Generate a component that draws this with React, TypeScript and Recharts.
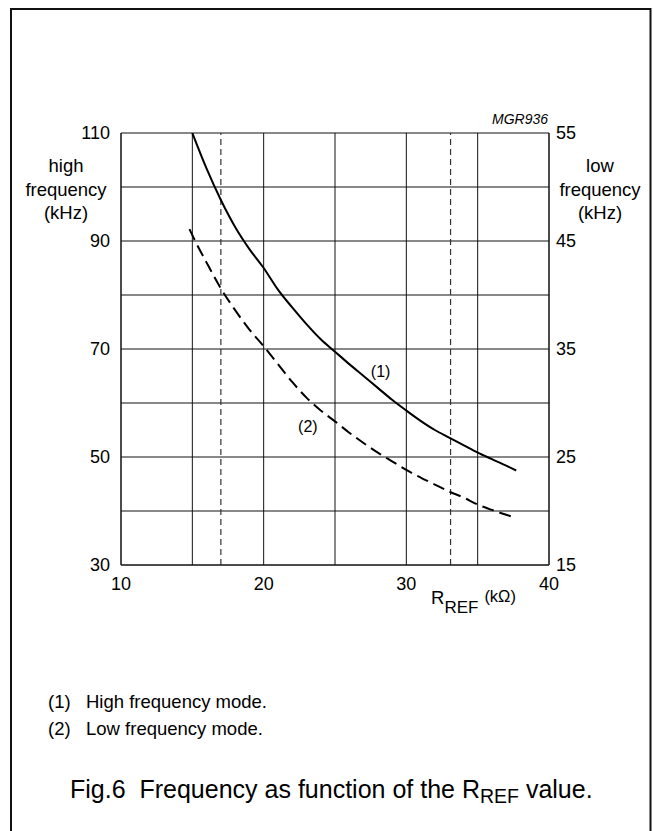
import React from "react";
import {
  LineChart,
  Line,
  XAxis,
  YAxis,
  CartesianGrid,
  ReferenceLine,
  ReferenceDot,
} from "recharts";

// R_REF (kOhm) vs frequency (kHz)
const highFreqR = [15, 16, 17, 18, 19, 20, 21, 22, 23, 24, 25, 26, 27, 28, 29, 30, 31, 32, 33, 34, 35, 36, 37, 37.7];
const highFreqF = [110, 103.4, 97.6, 92.6, 88.5, 85, 81, 77.7, 74.6, 71.8, 69.5, 67.2, 65, 62.8, 60.6, 58.6, 56.7, 55, 53.6, 52.2, 50.8, 49.6, 48.4, 47.5];

const lowFreqR = [14.8, 15.2, 16, 17, 18, 19, 20, 21, 22, 23, 24, 25, 26, 27, 28, 29, 30, 31, 32, 33, 34, 35, 36, 37, 37.5];
const lowFreqF = [92.2, 90, 86, 81.2, 77.2, 73.6, 70.5, 67.2, 63.9, 61, 58.6, 56.6, 54.5, 52.6, 50.8, 49.2, 47.6, 46.2, 44.9, 43.6, 42.5, 41.2, 40.2, 39.3, 38.9];

const xTicks = [10, 15, 20, 25, 30, 35, 40];
const xLabelled = [10, 20, 30, 40];
const leftTicks = [30, 40, 50, 60, 70, 80, 90, 100, 110];
const leftLabelled = [30, 50, 70, 90, 110];
const rightTicks = [15, 25, 35, 45, 55];
const limitLines = [17, 33.1];

const highData = highFreqR.map((r, i) => ({ r, f: highFreqF[i] }));
const lowData = lowFreqR.map((r, i) => ({ r, f: lowFreqF[i] }));

const FONT = '"Liberation Sans", Arial, Helvetica, sans-serif';

const TickText = ({ x, y, payload, show, anchor, dy }: any) => {
  if (show && !show.includes(payload.value)) return null;
  return (
    <text x={x} y={y} dy={dy} textAnchor={anchor} fontSize={18} fill="#000" fontFamily={FONT}>
      {payload.value}
    </text>
  );
};

export default function App() {
  return (
    <div
      style={{
        position: "absolute",
        left: 0,
        top: 0,
        width: 653,
        height: 831,
        background: "#fff",
        fontFamily: FONT,
      }}
    >
      <div style={{ position: "absolute", left: 0, top: 0 }}>
        <LineChart
          width={653}
          height={620}
          margin={{ top: 133, left: 61, right: 44, bottom: 25 }}
        >
          <CartesianGrid yAxisId="left" stroke="#111" strokeWidth={1} />
          <XAxis
            dataKey="r"
            type="number"
            domain={[10, 40]}
            ticks={xTicks}
            interval={0}
            allowDataOverflow
            tickLine={false}
            tickSize={0}
            tickMargin={12}
            axisLine={{ stroke: "#111" }}
            height={30}
            tick={<TickText show={xLabelled} anchor="middle" dy="0.71em" />}
          />
          <YAxis
            yAxisId="left"
            type="number"
            domain={[30, 110]}
            ticks={leftTicks}
            interval={0}
            allowDataOverflow
            tickLine={false}
            tickSize={0}
            tickMargin={11}
            width={60}
            axisLine={{ stroke: "#111" }}
            tick={<TickText show={leftLabelled} anchor="end" dy="0.35em" />}
          />
          <YAxis
            yAxisId="right"
            orientation="right"
            type="number"
            domain={[15, 55]}
            ticks={rightTicks}
            interval={0}
            allowDataOverflow
            tickLine={false}
            tickSize={0}
            tickMargin={7}
            width={60}
            axisLine={{ stroke: "#111" }}
            tick={<TickText anchor="start" dy="0.35em" />}
          />
          {limitLines.map((v) => (
            <ReferenceLine
              key={v}
              x={v}
              yAxisId="left"
              stroke="#333"
              strokeWidth={1.2}
              strokeDasharray="6 4"
            />
          ))}
          <Line
            yAxisId="left"
            data={highData}
            dataKey="f"
            type="monotone"
            stroke="#000"
            strokeWidth={2}
            dot={false}
            isAnimationActive={false}
          />
          <Line
            yAxisId="left"
            data={lowData}
            dataKey="f"
            type="monotone"
            stroke="#000"
            strokeWidth={2}
            strokeDasharray="12 6"
            dot={false}
            isAnimationActive={false}
          />
          <ReferenceDot
            yAxisId="left"
            x={28.2}
            y={65.8}
            r={0}
            fill="none"
            stroke="none"
            label={{ value: "(1)", position: "center", fontSize: 16, fill: "#000", fontFamily: FONT }}
          />
          <ReferenceDot
            yAxisId="left"
            x={23.1}
            y={55.6}
            r={0}
            fill="none"
            stroke="none"
            label={{ value: "(2)", position: "center", fontSize: 16, fill: "#000", fontFamily: FONT }}
          />
        </LineChart>
      </div>
      <svg
        width={653}
        height={831}
        style={{ position: "absolute", left: 0, top: 0, pointerEvents: "none" }}
        fontFamily={FONT}
      >
        <path d="M11 831 V9 H650.5 V831" fill="none" stroke="#111" strokeWidth={2} />
        <text x={548} y={124} textAnchor="end" fontSize={14} fontStyle="italic">
          MGR936
        </text>
        <g fontSize={18.5} textAnchor="middle">
          <text x={66} y={172}>high</text>
          <text x={66} y={196}>frequency</text>
          <text x={66} y={219}>(kHz)</text>
          <text x={600} y={172}>low</text>
          <text x={600} y={196}>frequency</text>
          <text x={600} y={219}>(kHz)</text>
        </g>
        <text x={431} y={604} fontSize={18.5}>
          R<tspan fontSize={17} dy={9}>REF</tspan>
          <tspan fontSize={16.5} dx={6} dy={-11}>(kΩ)</tspan>
        </text>
        <g fontSize={18.5}>
          <text x={48} y={708}>(1)</text>
          <text x={86} y={708}>High frequency mode.</text>
          <text x={48} y={735}>(2)</text>
          <text x={86} y={735}>Low frequency mode.</text>
        </g>
        <text x={70} y={798} fontSize={25}>
          {"Fig.6\u00a0 Frequency as function of the R"}
          <tspan fontSize={19.5} dy={5}>REF</tspan>
          <tspan dy={-5}> value.</tspan>
        </text>
      </svg>
    </div>
  );
}
